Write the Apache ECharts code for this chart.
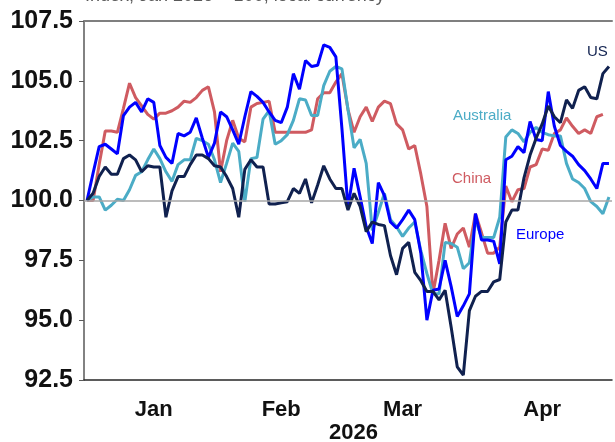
<!DOCTYPE html>
<html>
<head>
<meta charset="utf-8">
<script src="https://cdn.jsdelivr.net/npm/echarts@6/dist/echarts.min.js"></script>
<style>
  html, body { margin: 0; padding: 0; background: #fff; }
  #chart { width: 615px; height: 442px; }
</style>
</head>
<body>
<div id="chart"></div>
<script>
// trading days, index 0 = last day of 2025 (base = 100)
const months = ['Jan', 'Feb', 'Mar', 'Apr'];
const monthStart = [1, 22, 42, 64, 86];   // first trading day of each month
const monthMid = [11, 32, 52, 75];        // where the month name sits
const yTicks = [92.5, 95, 97.5, 100, 102.5, 105, 107.5];

const us = [100, 100.3, 101.0, 101.4, 101.1, 101.1, 101.75, 101.9, 101.7, 101.2,
  101.45, 101.4, 101.4, 99.3, 100.4, 101.0, 101.0, 101.5, 101.9, 101.9,
  101.75, 101.45, 101.4, 101.0, 100.5, 99.3, 101.3, 101.7, 101.4, 101.4,
  99.85, 99.85, 99.9, 99.95, 100.5, 100.3, 100.9, 99.9, 100.65, 101.45,
  100.9, 100.5, 100.5, 99.6, 100.3, 99.75, 98.7, 99.1, 99.0, 98.95,
  97.7, 96.9, 98.0, 98.25, 97.0, 96.65, 96.2, 96.2, 95.85, 96.25,
  94.7, 93.05, 92.7, 95.4, 96.0, 96.2, 96.2, 96.6, 96.7, 99.1,
  99.6, 99.6, 100.95, 101.9, 102.6, 103.2, 103.95, 103.5, 103.25, 104.2,
  103.85, 104.6, 104.75, 104.3, 104.25, 105.3, 105.6];

const europe = [100, 101.15, 102.25, 102.35, 102.15, 101.95, 103.55, 103.9, 104.1, 103.7,
  104.25, 104.1, 102.3, 101.8, 101.55, 102.8, 102.7, 102.85, 103.45, 102.6,
  101.8, 102.4, 103.7, 103.5, 102.95, 102.35, 103.5, 104.55, 104.35, 104.1,
  103.7, 103.35, 103.25, 103.9, 105.3, 104.65, 105.85, 105.6, 105.65, 106.5,
  106.4, 106.0, 103.0, 99.7, 101.35, 100.15, 98.9, 98.2, 100.75, 100.2,
  99.1, 98.85, 99.2, 99.6, 99.2, 97.8, 95.0, 96.25, 96.3, 97.5,
  96.4, 95.15, 95.6, 96.1, 99.45, 98.35, 98.35, 98.3, 97.35, 101.7,
  101.85, 102.25, 102.0, 103.3, 102.55, 102.5, 104.55, 103.1, 102.3, 102.05,
  101.85, 101.5, 101.25, 100.9, 100.5, 101.55, 101.55];

const australia = [100, 100.15, 100.15, 99.6, 99.8, 100.05, 100.0, 100.45, 101.05, 101.2,
  101.7, 102.15, 101.75, 101.2, 100.8, 101.5, 101.7, 101.7, 102.6, 102.5,
  102.35, 101.7, 100.75, 101.55, 102.4, 102.05, 99.95, 101.75, 101.8, 103.4,
  103.75, 102.35, 102.5, 102.75, 103.35, 104.25, 104.2, 103.55, 103.55, 104.8,
  105.4, 105.6, 105.5, 103.8, 102.2, 102.55, 101.55, 98.75, 99.5, 100.3,
  99.2, 98.9, 98.5, 98.85, 99.1, 97.9, 96.95, 96.1, 96.1, 98.25,
  98.2, 98.05, 97.15, 97.4, 99.2, 98.45, 98.45, 98.45, 99.3, 102.65,
  102.95, 102.8, 102.45, 102.85, 103.05, 102.85, 102.75, 102.7, 102.7, 101.55,
  100.9, 100.75, 100.5, 99.95, 99.75, 99.45, 100.15];

const china = [100, 100.0, 101.5, 102.9, 102.9, 102.85, 103.85, 104.9, 104.3, 103.95,
  103.6, 103.4, 103.65, 103.65, 103.75, 103.9, 104.15, 104.1, 104.3, 104.6,
  104.75, 103.7, 101.2, 102.5, 103.35, 102.6, 102.45, 103.9, 104.05, 104.1,
  104.15, 102.85, 102.85, 102.85, 102.85, 102.85, 102.85, 102.95, 104.25, 104.5,
  104.5, 104.95, 105.3, 103.8, 102.85, 103.5, 103.9, 103.3, 103.9, 104.15,
  104.05, 103.2, 102.95, 102.15, 102.3, 101.1, 99.75, 96.1, 97.5, 99.05,
  98.0, 98.6, 98.85, 98.05, 99.45, 98.65, 97.8, 97.8, 98.05, 100.6,
  99.95, 100.45, 100.5, 101.4, 101.5, 102.15, 102.1, 102.8, 102.95, 103.45,
  103.1, 102.8, 102.95, 102.8, 103.5, 103.6, null];

const days = us.map((_, i) => String(i));

const C_US = '#10214f', C_EU = '#0000ff', C_AU = '#4bacc6', C_CN = '#cf5b61';

const chart = echarts.init(document.getElementById('chart'));

function line(name, data, color, extra) {
  return Object.assign({
    name: name,
    type: 'line',
    data: data,
    showSymbol: false,
    symbol: 'none',
    lineStyle: { color: color, width: 3 },
    itemStyle: { color: color },
    silent: true
  }, extra || {});
}

function label(text, color, x, y) {
  return {
    type: 'text', left: x, top: y,
    style: { text: text, fill: color, font: '15px "Liberation Sans", Arial, sans-serif' }
  };
}

chart.setOption({
  animation: false,
  grid: { left: 84, right: 3, top: 21, bottom: 62 },
  xAxis: [{
    type: 'category',
    data: days,
    boundaryGap: true,
    axisLine: { lineStyle: { color: '#262626', width: 1.5 } },
    axisTick: {
      inside: true, length: 5,
      interval: (i) => monthStart.indexOf(i) >= 0,
      lineStyle: { color: '#7f7f7f' }
    },
    axisLabel: {
      interval: (i) => monthMid.indexOf(i) >= 0,
      formatter: (v, i) => months[monthMid.indexOf(i)] || '',
      margin: 19,
      color: '#111',
      fontWeight: 'bold',
      fontSize: 22,
      fontFamily: '"Liberation Sans", Arial, sans-serif'
    },
    splitLine: { show: false }
  }, {
    type: 'category',
    data: days,
    position: 'top',
    axisLine: { lineStyle: { color: '#7f7f7f', width: 2 } },
    axisTick: { show: false },
    axisLabel: { show: false }
  }],
  yAxis: {
    type: 'value',
    min: yTicks[0],
    max: yTicks[yTicks.length - 1],
    interval: 2.5,
    axisLine: { show: true, lineStyle: { color: '#595959', width: 1.5 } },
    axisTick: { show: true, length: 5, lineStyle: { color: '#595959' } },
    axisLabel: {
      formatter: (v) => v.toFixed(1),
      margin: 11,
      color: '#111',
      fontWeight: 'bold',
      fontSize: 25,
      fontFamily: '"Liberation Sans", Arial, sans-serif'
    },
    splitLine: { show: false }
  },
  graphic: [
    {
      type: 'text', left: 85, top: -13,
      style: { text: 'Index, Jan 2026 = 100, local currency', fill: '#595959',
        font: '18px "Liberation Sans", Arial, sans-serif' }
    },
    {
      type: 'text', left: 329, top: 422,
      style: { text: '2026', fill: '#111',
        font: 'bold 22px "Liberation Sans", Arial, sans-serif' }
    },
    label('US', C_US, 587, 44),
    label('Australia', C_AU, 453, 108),
    label('China', C_CN, 452, 171),
    label('Europe', C_EU, 516, 227)
  ],
  series: [
    line('China', china, C_CN, {
      markLine: {
        silent: true, symbol: 'none', label: { show: false },
        lineStyle: { color: '#a6a6a6', width: 1.5, type: 'solid' },
        data: [{ yAxis: 100 }]
      }
    }),
    line('Australia', australia, C_AU),
    line('Europe', europe, C_EU),
    line('US', us, C_US)
  ]
});
</script>
</body>
</html>
